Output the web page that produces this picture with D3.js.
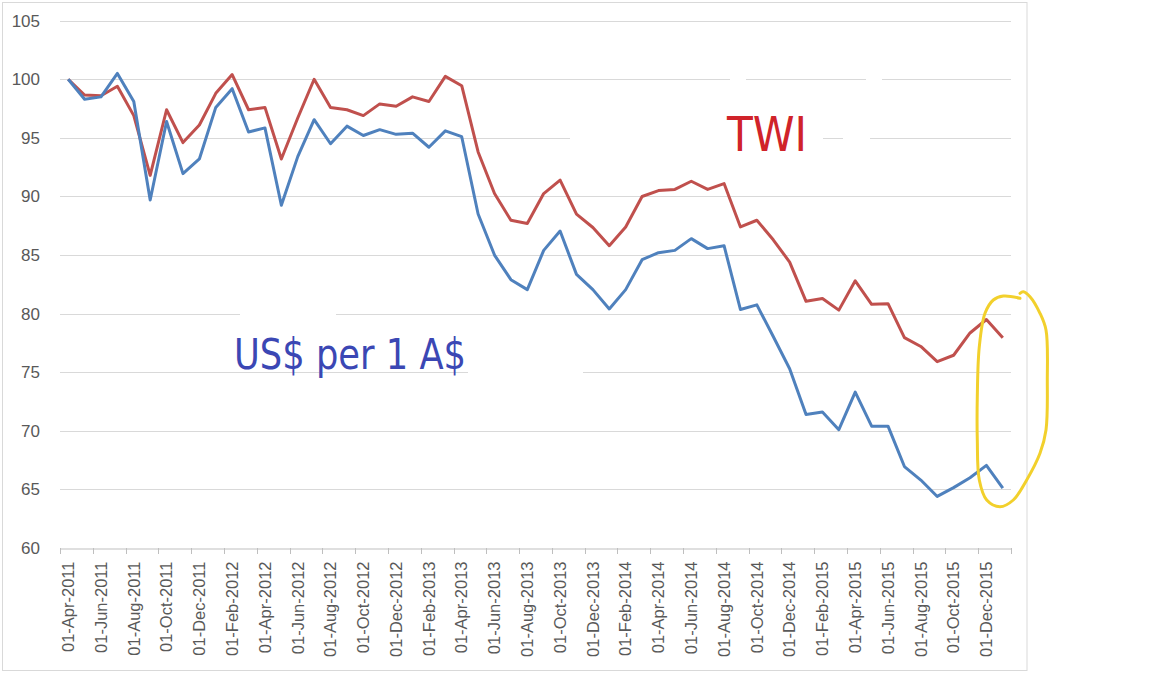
<!DOCTYPE html>
<html>
<head>
<meta charset="utf-8">
<script src="https://cdn.jsdelivr.net/npm/d3@7"></script>
<style>
  html, body { margin: 0; padding: 0; background: #fff; }
  svg { display: block; }
</style>
</head>
<body>
<svg id="chart" width="1152" height="673"></svg>
<script>
const categories = [
  "01-Apr-2011","01-May-2011","01-Jun-2011","01-Jul-2011","01-Aug-2011","01-Sep-2011","01-Oct-2011","01-Nov-2011","01-Dec-2011",
  "01-Jan-2012","01-Feb-2012","01-Mar-2012","01-Apr-2012","01-May-2012","01-Jun-2012","01-Jul-2012","01-Aug-2012","01-Sep-2012","01-Oct-2012","01-Nov-2012","01-Dec-2012",
  "01-Jan-2013","01-Feb-2013","01-Mar-2013","01-Apr-2013","01-May-2013","01-Jun-2013","01-Jul-2013","01-Aug-2013","01-Sep-2013","01-Oct-2013","01-Nov-2013","01-Dec-2013",
  "01-Jan-2014","01-Feb-2014","01-Mar-2014","01-Apr-2014","01-May-2014","01-Jun-2014","01-Jul-2014","01-Aug-2014","01-Sep-2014","01-Oct-2014","01-Nov-2014","01-Dec-2014",
  "01-Jan-2015","01-Feb-2015","01-Mar-2015","01-Apr-2015","01-May-2015","01-Jun-2015","01-Jul-2015","01-Aug-2015","01-Sep-2015","01-Oct-2015","01-Nov-2015","01-Dec-2015",
  "01-Jan-2016"
];

// US$ per 1 A$ (indexed, blue)
const usdPerAud = [
  100.0, 98.3, 98.5, 100.5, 98.1, 89.7, 96.4, 91.95, 93.2,
  97.6, 99.2, 95.5, 95.85, 89.25, 93.4, 96.55, 94.5, 96.0, 95.2, 95.7, 95.3,
  95.4, 94.2, 95.6, 95.1, 88.5, 85.0, 82.9, 82.05, 85.4, 87.05, 83.35, 82.05,
  80.4, 82.05, 84.6, 85.2, 85.4, 86.4, 85.55, 85.8, 80.35, 80.75, 78.05, 75.3,
  71.4, 71.6, 70.1, 73.3, 70.4, 70.4, 66.95, 65.8, 64.4, 65.15, 66.0, 67.05,
  65.1
];

// Trade-weighted index (red)
const twi = [
  100.0, 98.65, 98.6, 99.4, 96.9, 91.8, 97.4, 94.6, 96.1,
  98.8, 100.4, 97.4, 97.6, 93.2, 96.7, 100.0, 97.6, 97.4, 96.9, 97.9, 97.7,
  98.5, 98.1, 100.25, 99.45, 93.8, 90.25, 87.97, 87.7, 90.25, 91.4, 88.5, 87.35,
  85.8, 87.4, 90.0, 90.5, 90.6, 91.3, 90.6, 91.1, 87.4, 87.97, 86.3, 84.4,
  81.05, 81.3, 80.3, 82.8, 80.8, 80.85, 77.95, 77.2, 75.9, 76.45, 78.35, 79.5,
  77.95
];

const yTicks = [60, 65, 70, 75, 80, 85, 90, 95, 100, 105];

const svg = d3.select("#chart");

// outer chart border
svg.append("rect")
  .attr("x", 2.5).attr("y", 2.5).attr("width", 1024.5).attr("height", 668)
  .attr("fill", "none").attr("stroke", "#D9D9D9").attr("stroke-width", 1);

const x = d3.scaleBand().domain(categories).range([60, 1011]).paddingInner(0).paddingOuter(0);
const y = d3.scaleLinear().domain([60, 105]).range([548, 20.7]);

// gridlines
svg.append("g").selectAll("line")
  .data(yTicks.filter(t => t !== 60))
  .join("line")
  .attr("x1", 60).attr("x2", 1011)
  .attr("y1", d => Math.round(y(d)) + 0.5).attr("y2", d => Math.round(y(d)) + 0.5)
  .attr("stroke", "#D9D9D9").attr("stroke-width", 1);

// y-axis labels
svg.append("g").selectAll("text")
  .data(yTicks)
  .join("text")
  .attr("x", 40).attr("y", d => y(d))
  .attr("dy", "0.35em")
  .attr("text-anchor", "end")
  .attr("font-family", "Liberation Sans, Arial, sans-serif")
  .attr("font-size", 17)
  .attr("fill", "#595959")
  .text(d => d);

// x axis
const xAxis = d3.axisBottom(x)
  .tickValues(categories.filter((c, i) => i % 2 === 0))
  .tickSize(0)
  .tickSizeOuter(0);

const gx = svg.append("g").attr("transform", `translate(0,${Math.round(y(60)) + 0.5})`).call(xAxis);
gx.select(".domain").attr("stroke", "#BFBFBF");
gx.selectAll(".tick text")
  .attr("transform", "rotate(-90)")
  .attr("x", -13).attr("y", 0)
  .attr("dy", "0.35em")
  .attr("text-anchor", "end")
  .attr("font-family", "Liberation Sans, Arial, sans-serif")
  .attr("font-size", 16.5)
  .attr("fill", "#595959");

// tick marks at category boundaries every 2 months
const boundaries = categories.filter((c, i) => i % 2 === 0).map(c => x(c)).concat([x(categories[categories.length - 1]) + x.bandwidth()]);
svg.append("g").selectAll("line")
  .data(boundaries)
  .join("line")
  .attr("x1", d => Math.round(d) + 0.5).attr("x2", d => Math.round(d) + 0.5)
  .attr("y1", Math.round(y(60))).attr("y2", Math.round(y(60)) + 6)
  .attr("stroke", "#BFBFBF").attr("stroke-width", 1);

// erased patches over gridlines (from the annotated screenshot)
const patches = [
  [240, 305, 96, 16],
  [570, 128, 253, 18],
  [843, 128, 27, 18],
  [730, 70, 16, 18],
  [866, 70, 16, 18],
  [468, 364, 115, 16]
];
svg.append("g").selectAll("rect")
  .data(patches)
  .join("rect")
  .attr("x", d => d[0]).attr("y", d => d[1]).attr("width", d => d[2]).attr("height", d => d[3])
  .attr("fill", "#fff");

// lines
const line = d3.line()
  .x((d, i) => x(categories[i]) + x.bandwidth() / 2)
  .y(d => y(d));

svg.append("path").datum(twi)
  .attr("d", line)
  .attr("fill", "none").attr("stroke", "#C0504D").attr("stroke-width", 3)
  .attr("stroke-linejoin", "round");

svg.append("path").datum(usdPerAud)
  .attr("d", line)
  .attr("fill", "none").attr("stroke", "#4F81BD").attr("stroke-width", 3)
  .attr("stroke-linejoin", "round");

// handwritten annotations
svg.append("text")
  .attr("x", 234).attr("y", 369)
  .attr("font-family", "DejaVu Sans Condensed, DejaVu Sans, sans-serif")
  .attr("font-size", 42)
  .attr("font-weight", 300)
  .attr("fill", "#3B47B4")
  .attr("textLength", 232).attr("lengthAdjust", "spacingAndGlyphs")
  .text("US$ per 1 A$");

svg.append("text")
  .attr("x", 727).attr("y", 151)
  .attr("font-family", "DejaVu Sans Condensed, DejaVu Sans, sans-serif")
  .attr("font-size", 48)
  .attr("font-weight", 300)
  .attr("fill", "#D0232A")
  .attr("textLength", 80).attr("lengthAdjust", "spacingAndGlyphs")
  .text("TWI");

// yellow hand-drawn ellipse
const ellipsePts = [
  [1020, 298.3], [1003.3, 296], [993.3, 300], [985, 313.3], [979.3, 346.7], [977.3, 396.7],
  [977.3, 440], [979.3, 480], [986.7, 500], [1000, 506.7], [1013.3, 500], [1026.7, 480],
  [1040, 453.3], [1046, 430], [1047.3, 380], [1046, 330], [1040, 313.3], [1030, 296.7],
  [1023.3, 291.7], [1020, 293.3]
];
svg.append("path")
  .attr("d", d3.line().curve(d3.curveCatmullRom)(ellipsePts))
  .attr("fill", "none").attr("stroke", "#F2D02C").attr("stroke-width", 3)
  .attr("stroke-linecap", "round");
</script>
</body>
</html>
